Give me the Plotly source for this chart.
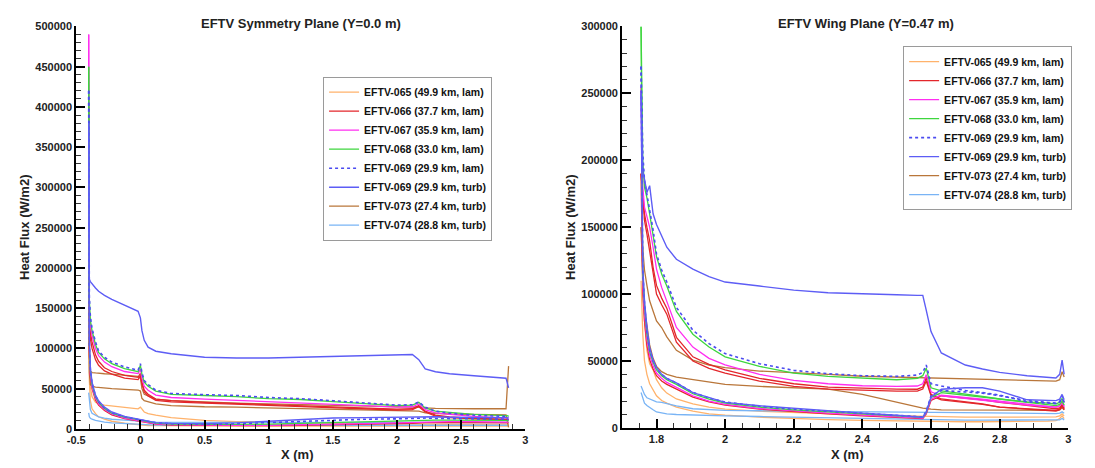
import plotly.graph_objects as go

# ---------------- Symmetry plane (Y = 0.0 m) ----------------
SYM_X = [-0.403, -0.398, -0.390, -0.377, -0.350, -0.326, -0.280, -0.223, -0.123, -0.018,
         0.000, 0.012, 0.030, 0.060, 0.120, 0.240, 0.500, 0.750, 1.000, 1.250,
         1.500, 1.750, 2.000, 2.120, 2.170, 2.220, 2.300, 2.410, 2.600, 2.850, 2.870]

SYM_065_A = [150000, 80000, 52000, 40000, 33000, 31000, 29500, 28500, 26500, 25000,
             27000, 24000, 21000, 19000, 17000, 14000, 10500, 9000, 8000, 7500,
             7000, 6500, 6000, 6000, 6000, 5500, 5500, 5000, 5000, 5000, 5000]
SYM_065_B = [150000, 60000, 35000, 25000, 19000, 15000, 12000, 9500, 7000, 5000,
             5000, 4800, 4500, 4200, 4000, 3800, 3500, 3500, 3500, 3500,
             3500, 3500, 3500, 3500, 3500, 3500, 3500, 3500, 3500, 3500, 3500]
SYM_066_W = [400000, 140000, 120000, 108000, 92000, 84000, 76000, 71300, 66400, 64000,
             69000, 58000, 48000, 43000, 37000, 35000, 33000, 31500, 30000, 28500,
             27500, 26000, 24500, 25000, 29000, 22000, 17000, 15000, 13000, 12000, 11500]
SYM_066_W2 = [400000, 135000, 112000, 100000, 86000, 79000, 72000, 68000, 63200, 61200,
              66000, 56000, 46000, 41000, 35500, 33500, 32000, 30500, 29000, 27500,
              26500, 25000, 23500, 24000, 27500, 21000, 16000, 14000, 12500, 11500, 11000]
SYM_066_L = [400000, 95000, 64000, 50000, 36000, 29500, 23000, 17500, 12800, 9500,
             9300, 8800, 8000, 7000, 5800, 4700, 4200, 4000, 4000, 4300,
             4800, 5500, 6500, 7000, 7500, 7800, 7800, 7800, 7800, 7500, 7500]
SYM_067_W = [490000, 150000, 128000, 116000, 100000, 91000, 83000, 77300, 71300, 68800,
             74000, 63000, 53000, 48000, 42000, 39000, 37000, 35500, 34000, 32500,
             31000, 29000, 27000, 27500, 31000, 24000, 20000, 18000, 15500, 14000, 13500]
SYM_067_L = [490000, 100000, 68000, 52000, 38000, 31000, 24000, 18500, 13500, 10000,
             9800, 9300, 8500, 7500, 6300, 5200, 4600, 4400, 4500, 5000,
             5500, 6500, 7500, 8000, 8500, 9000, 9000, 9000, 9000, 8800, 8500]
SYM_068_W = [450000, 160000, 135000, 122000, 105000, 95000, 87000, 81000, 75000, 71000,
             79000, 68000, 58000, 53000, 47000, 43000, 41500, 40000, 37500, 36500,
             34000, 31500, 29000, 29500, 33000, 26000, 22000, 20500, 18000, 16500, 16000]
SYM_068_L = [450000, 105000, 72000, 55000, 40000, 33000, 25500, 19500, 14500, 11000,
             10800, 10300, 9500, 8500, 7200, 6000, 5500, 5500, 6000, 7000,
             8000, 9000, 10000, 10500, 11000, 11000, 11000, 11000, 11000, 10500, 10000]
SYM_069LAM_W = [420000, 165000, 140000, 125000, 108000, 97000, 89000, 83000, 77000, 73000,
                81000, 70000, 60000, 55000, 48000, 44000, 42500, 41500, 39000, 37500,
                35000, 32000, 29500, 30000, 33500, 27000, 22000, 19500, 17000, 15500, 15000]
SYM_069LAM_L = [420000, 108000, 74000, 57000, 41000, 34000, 26000, 20000, 15000, 11500,
                11200, 10800, 10000, 9000, 7600, 6500, 6000, 6500, 8000, 9500,
                11000, 12000, 12500, 13000, 13500, 13500, 13000, 12500, 12500, 12000, 11500]
SYM_069TURB_W = [380000, 186000, 183000, 180000, 175000, 171000, 166000, 161000, 154000, 146000,
                 138000, 122000, 110000, 101500, 96500, 93400, 89000, 88000, 88000, 89000,
                 90000, 90500, 91500, 92500, 86000, 74500, 71000, 68500, 66000, 63000, 51000]
SYM_069TURB_L = [380000, 112000, 76000, 58000, 42000, 35000, 27000, 21000, 15500, 12000,
                 11500, 11000, 10000, 9000, 7800, 6800, 6500, 7500, 9500, 11500,
                 13500, 14000, 14500, 15000, 15000, 15000, 15000, 14500, 14500, 14000, 13500]
SYM_073_A = [210000, 90000, 72000, 70000, 69500, 69000, 68500, 68000, 67000, 65200,
             63000, 50000, 43000, 41000, 37000, 35000, 33000, 32000, 31000, 30000,
             29000, 28000, 27000, 27000, 27500, 26000, 25500, 25000, 25000, 25000, 78000]
SYM_073_B = [210000, 70000, 55000, 53000, 52000, 51500, 51000, 50000, 49000, 48300,
             47000, 38000, 35000, 33800, 31000, 29000, 27500, 27000, 26000, 25000,
             24000, 23000, 22000, 21500, 22000, 20000, 19000, 18500, 18000, 17500, 2000]
SYM_074_A = [45000, 32000, 24000, 19300, 16500, 15000, 13500, 12000, 10800, 9700,
             9500, 9300, 9000, 8800, 8500, 8200, 8000, 8000, 8000, 8000,
             8000, 8000, 8000, 8000, 8000, 8000, 8000, 8000, 8000, 8000, 8000]
SYM_074_B = [20000, 15000, 13300, 12000, 10500, 9500, 8500, 7500, 6500, 5500,
             5500, 5300, 5100, 5000, 4800, 4500, 4500, 4500, 4500, 4500,
             4500, 4500, 4500, 4500, 4500, 4500, 4500, 4500, 4500, 4500, 4500]

# ---------------- Wing plane (Y = 0.47 m) ----------------
WING_X = [1.755, 1.760, 1.765, 1.772, 1.780, 1.790, 1.800, 1.815, 1.830, 1.858,
          1.906, 1.953, 2.000, 2.100, 2.200, 2.300, 2.400, 2.500, 2.560, 2.576,
          2.586, 2.600, 2.630, 2.700, 2.750, 2.800, 2.880, 2.940, 2.964, 2.975,
          2.982, 2.988]

WING_065_A = [150000, 110000, 80000, 58000, 48000, 43400, 36000, 30000, 26000, 21600,
              18000, 15500, 14000, 12500, 11500, 10500, 9800, 9200, 8800, 8500,
              8300, 8200, 8200, 8100, 8000, 8000, 8000, 8000, 8200, 9000, 10500, 9000]
WING_065_B = [110000, 70000, 50000, 40000, 33000, 28000, 24000, 20500, 18500, 15500,
              12500, 10500, 9500, 8000, 7000, 6200, 5600, 5200, 5000, 4800,
              4700, 4600, 4600, 4600, 4600, 4600, 4800, 5000, 5500, 7000, 9000, 7000]
WING_066_W = [190000, 175000, 160000, 150000, 140000, 120000, 106500, 97000, 89500, 67700,
              53100, 47500, 43400, 37000, 33000, 30500, 29500, 29000, 28900, 30500,
              37300, 25000, 21600, 19500, 18000, 15500, 14500, 13500, 13100, 14000, 17000, 14000]
WING_066_W2 = [190000, 170000, 155000, 145000, 132000, 115000, 100000, 92000, 85000, 64000,
               50000, 44500, 41000, 35000, 31000, 29000, 28000, 27500, 27500, 29000,
               35000, 24000, 21000, 19000, 17500, 15500, 14000, 13000, 12500, 13500, 16000, 13500]
WING_066_L = [190000, 100000, 80000, 62000, 51000, 44000, 39000, 35000, 32500, 29000,
              23000, 19500, 17000, 14000, 12000, 10500, 9000, 8000, 7200, 7000,
              10500, 20500, 24000, 22500, 21000, 19100, 16500, 15000, 14300, 15000, 17500, 15000]
WING_067_W = [255000, 180000, 165000, 158000, 150000, 135000, 118700, 105000, 95000, 75000,
              60400, 52000, 47100, 40000, 35500, 33000, 31500, 31000, 31300, 33000,
              39800, 27000, 24000, 22000, 20500, 19100, 17000, 16000, 15500, 16500, 19000, 16000]
WING_067_L = [255000, 108000, 86000, 66000, 54000, 46500, 41000, 37000, 34000, 30500,
              24000, 20000, 17500, 14500, 12500, 11000, 9500, 8300, 7500, 7300,
              11000, 21500, 24500, 23000, 21500, 20000, 17500, 16000, 15500, 16500, 19000, 16000]
WING_068_W = [300000, 200000, 180000, 172000, 160000, 145000, 128000, 115000, 106000, 87000,
              70000, 60400, 53100, 46000, 41000, 38500, 37000, 36000, 37000, 39000,
              44600, 30000, 27700, 25500, 23500, 21600, 19500, 18500, 18000, 19000, 22000, 19000]
WING_068_L = [300000, 115000, 92000, 70000, 57000, 49000, 43400, 39000, 36000, 32500,
              25500, 21500, 18500, 15500, 13500, 12000, 10500, 9000, 8000, 7800,
              11500, 22800, 26400, 24500, 23000, 21600, 19000, 17500, 16700, 17500, 20000, 17000]
WING_069LAM_W = [270000, 205000, 185000, 175000, 165000, 148000, 130000, 118000, 109000, 90000,
                 73000, 63000, 55500, 48000, 43000, 40500, 39000, 38500, 39500, 41500,
                 47000, 33000, 31300, 28000, 26400, 24500, 19500, 18500, 18200, 19500, 24000, 19000]
WING_069LAM_L = [270000, 118000, 94000, 72000, 58000, 50000, 44500, 40000, 37000, 33500,
                 26500, 22300, 19300, 16200, 14000, 12500, 11000, 9500, 8500, 8200,
                 12500, 24000, 28000, 27000, 26000, 24000, 20500, 19000, 18500, 19500, 22000, 19000]
WING_069TURB_W = [250000, 192000, 186000, 176000, 181000, 160000, 152000, 143000, 135000, 126000,
                  118700, 113000, 109000, 106000, 103000, 101000, 100000, 99500, 99000, 99000,
                  88000, 72000, 56000, 47000, 44000, 41500, 39000, 37500, 37300, 40000, 50700, 40000]
WING_069TURB_L = [250000, 120000, 95000, 75000, 60000, 50700, 45000, 40000, 37000, 33700,
                  26400, 22500, 19100, 16500, 14500, 12500, 11000, 9500, 8500, 8000,
                  12000, 23000, 28900, 30000, 30000, 27500, 21000, 20400, 20400, 21500, 25000, 21000]
WING_073_A = [150000, 135000, 118000, 106500, 95000, 87400, 80000, 75000, 68000, 58000,
              50700, 47000, 45000, 42500, 41000, 40000, 38600, 38000, 37500, 37300,
              37300, 37200, 37000, 36500, 36200, 36000, 35500, 35000, 35000, 36000, 42000, 38000]
WING_073_B = [150000, 110000, 90000, 75000, 62000, 52000, 46000, 42000, 40000, 38000,
              36200, 34000, 32500, 31000, 30000, 29000, 25000, 19000, 15500, 14800,
              14500, 14000, 13500, 13300, 13200, 13100, 13100, 13100, 13100, 13500, 15000, 13500]
WING_074_A = [31300, 28000, 25000, 22500, 21600, 20500, 19500, 19100, 18000, 16500,
              14300, 13800, 13100, 12800, 12500, 12300, 12100, 12000, 11900, 11900,
              11900, 11800, 11700, 11500, 11300, 11000, 10800, 10700, 10700, 11000, 12000, 11000]
WING_074_B = [26400, 22000, 18500, 16700, 15000, 13500, 11900, 11000, 10500, 10000,
              9500, 9200, 9000, 8500, 8000, 7500, 7000, 6500, 6200, 6000,
              6000, 5900, 5900, 5800, 5800, 5800, 5800, 5800, 5800, 6000, 7000, 6000]

# ---------------- labels / ticks ----------------
CASE_LABELS = {
    "065": "EFTV-065 (49.9 km, lam)",
    "066": "EFTV-066 (37.7 km, lam)",
    "067": "EFTV-067 (35.9 km, lam)",
    "068": "EFTV-068 (33.0 km, lam)",
    "069lam": "EFTV-069 (29.9 km, lam)",
    "069turb": "EFTV-069 (29.9 km, turb)",
    "073": "EFTV-073 (27.4 km, turb)",
    "074": "EFTV-074 (28.8 km, turb)",
}
TITLE_SYM = "EFTV Symmetry Plane (Y=0.0 m)"
TITLE_WING = "EFTV Wing Plane (Y=0.47 m)"
Y_LABEL = "Heat Flux (W/m2)"
X_LABEL = "X (m)"

SYM_XTICKS = [-0.5, 0, 0.5, 1, 1.5, 2, 2.5, 3]
SYM_XTICKTEXT = ["-0.5", "0", "0.5", "1", "1.5", "2", "2.5", "3"]
SYM_YTICKS = [0, 50000, 100000, 150000, 200000, 250000, 300000, 350000, 400000, 450000, 500000]
WING_XTICKS = [1.8, 2.0, 2.2, 2.4, 2.6, 2.8, 3.0]
WING_XTICKTEXT = ["1.8", "2", "2.2", "2.4", "2.6", "2.8", "3"]
WING_YTICKS = [0, 50000, 100000, 150000, 200000, 250000, 300000]

# ---------------- styles ----------------
STYLE = {
    "065": dict(color="#FFB26B", width=1.3, dash="solid"),
    "066": dict(color="#E3262B", width=1.3, dash="solid"),
    "067": dict(color="#FF2EF0", width=1.3, dash="solid"),
    "068": dict(color="#3ED63E", width=1.3, dash="solid"),
    "069lam": dict(color="#4B4BF0", width=1.6, dash="dot"),
    "069turb": dict(color="#5D5DF5", width=1.4, dash="solid"),
    "073": dict(color="#B9763A", width=1.3, dash="solid"),
    "074": dict(color="#79B4F5", width=1.3, dash="solid"),
}
RANK = {"065": 1, "066": 2, "067": 3, "068": 4, "069lam": 5, "069turb": 6, "073": 7, "074": 8}

SYM_SERIES = [
    ("065", SYM_065_A), ("065", SYM_065_B),
    ("074", SYM_074_A), ("074", SYM_074_B),
    ("073", SYM_073_A), ("073", SYM_073_B),
    ("066", SYM_066_W), ("066", SYM_066_W2), ("066", SYM_066_L),
    ("067", SYM_067_W), ("067", SYM_067_L),
    ("068", SYM_068_W), ("068", SYM_068_L),
    ("069lam", SYM_069LAM_W), ("069lam", SYM_069LAM_L),
    ("069turb", SYM_069TURB_W), ("069turb", SYM_069TURB_L),
]
WING_SERIES = [
    ("065", WING_065_A), ("065", WING_065_B),
    ("074", WING_074_A), ("074", WING_074_B),
    ("073", WING_073_A), ("073", WING_073_B),
    ("066", WING_066_W), ("066", WING_066_W2), ("066", WING_066_L),
    ("067", WING_067_W), ("067", WING_067_L),
    ("068", WING_068_W), ("068", WING_068_L),
    ("069lam", WING_069LAM_W), ("069lam", WING_069LAM_L),
    ("069turb", WING_069TURB_W), ("069turb", WING_069TURB_L),
]

fig = go.Figure()


def add_panel(xs, series, xa, ya, legend_name):
    seen = set()
    for key, ys in series:
        st = STYLE[key]
        fig.add_trace(go.Scatter(
            x=xs, y=ys, mode="lines",
            name=CASE_LABELS[key],
            legendgroup=legend_name + key,
            showlegend=key not in seen,
            legend=legend_name,
            legendrank=RANK[key],
            line=dict(color=st["color"], width=st["width"], dash=st["dash"]),
            xaxis=xa, yaxis=ya,
            hoverinfo="skip",
        ))
        seen.add(key)


add_panel(SYM_X, SYM_SERIES, "x", "y", "legend")
add_panel(WING_X, WING_SERIES, "x2", "y2", "legend2")

FONT = "Arial, Liberation Sans, sans-serif"
axis_common = dict(
    showline=True, linecolor="black", linewidth=2,
    ticks="inside", ticklen=9, tickwidth=2, tickcolor="black",
    showgrid=False, zeroline=False,
    tickfont=dict(family=FONT, size=11, color="#222", weight="bold"),
)


def minor(dt):
    return dict(tickmode="linear", tick0=0, dtick=dt, ticks="inside",
                ticklen=5, tickwidth=1, tickcolor="#333", showgrid=False)


legend_common = dict(
    xanchor="left", yanchor="top",
    bgcolor="white", bordercolor="#9a9a9a", borderwidth=1,
    font=dict(family=FONT, size=10.5, color="#111", weight="bold"),
    tracegroupgap=0,
)

fig.update_layout(
    width=1095, height=468,
    margin=dict(l=0, r=0, t=0, b=0),
    paper_bgcolor="white", plot_bgcolor="white",
    font=dict(family=FONT, color="#222"),
    showlegend=True,
    xaxis=dict(domain=[0.0621, 0.4767], range=[-0.5, 3.0], anchor="y",
               tickmode="array", tickvals=SYM_XTICKS, ticktext=SYM_XTICKTEXT,
               minor=minor(0.1), **axis_common),
    yaxis=dict(domain=[0.0726, 0.9551], range=[0, 500000], anchor="x",
               tickmode="array", tickvals=SYM_YTICKS,
               ticktext=[str(v) for v in SYM_YTICKS],
               minor=minor(10000), **axis_common),
    xaxis2=dict(domain=[0.5662, 0.9781], range=[1.7, 3.0], anchor="y2",
                tickmode="array", tickvals=WING_XTICKS, ticktext=WING_XTICKTEXT,
                minor=minor(0.05), **axis_common),
    yaxis2=dict(domain=[0.0748, 0.9551], range=[0, 300000], anchor="x2",
                tickmode="array", tickvals=WING_YTICKS,
                ticktext=[str(v) for v in WING_YTICKS],
                minor=minor(10000), **axis_common),
    legend=dict(x=0.29, y=0.845, **legend_common),
    legend2=dict(x=0.8256, y=0.912, **legend_common),
)

title_font = dict(family=FONT, size=13, color="#222", weight="bold")
ann = [
    dict(text=TITLE_SYM, x=0.27, y=0.9615),
    dict(text=TITLE_WING, x=0.791, y=0.9615),
    dict(text=X_LABEL, x=0.2667, y=0.017),
    dict(text=X_LABEL, x=0.7744, y=0.017),
    dict(text=Y_LABEL, x=0.0137, y=0.515, textangle=-90),
    dict(text=Y_LABEL, x=0.5178, y=0.515, textangle=-90),
]
for a in ann:
    fig.add_annotation(xref="paper", yref="paper", showarrow=False,
                       xanchor="center", yanchor="middle", font=title_font, **a)

fig.write_html("out.html")
